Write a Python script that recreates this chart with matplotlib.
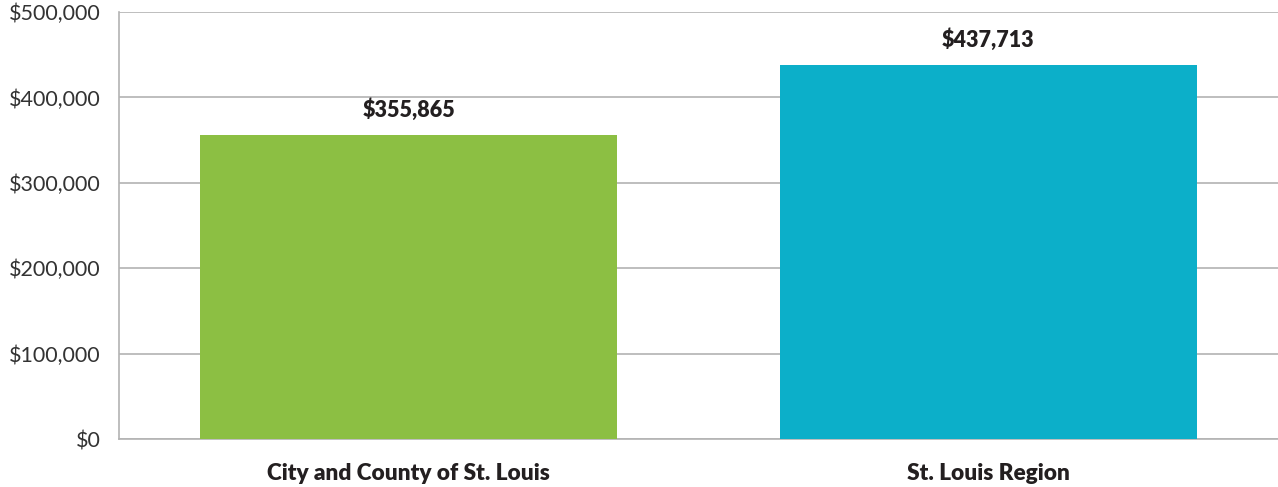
import matplotlib
matplotlib.use("Agg")
import matplotlib.pyplot as plt
from matplotlib.ticker import FuncFormatter

categories = ["City and County of St. Louis", "St. Louis Region"]
values = [355865, 437713]
colors = ["#8cbf43", "#0cafc9"]
yticks = [0, 100000, 200000, 300000, 400000, 500000]

plt.rcParams['font.family'] = ['Lato', 'DejaVu Sans']

fig = plt.figure(figsize=(12.78, 4.87), dpi=100)
ax = fig.add_axes([119/1278, 1-439/487, 1-119/1278, (439-12)/487])

x = list(range(len(categories)))
ax.bar(x, values, width=0.72, color=colors, zorder=3)
ax.set_xlim(-0.5, len(categories)-0.5)
ax.set_ylim(0, 500000)
ax.set_yticks(yticks)
ax.yaxis.set_major_formatter(FuncFormatter(lambda v, p: f"${v:,.0f}"))
ax.grid(axis='y', color='#b3b3b3', linewidth=1.2, zorder=0)
for s in ['top', 'right']:
    ax.spines[s].set_visible(False)
ax.spines['left'].set_color('#b3b3b3')
ax.spines['bottom'].set_color('#b3b3b3')
ax.spines['left'].set_linewidth(1.2)
ax.spines['bottom'].set_linewidth(1.2)
ax.tick_params(axis='y', length=0, pad=13, labelsize=15.5, labelcolor='#333333')
ax.tick_params(axis='x', length=0, pad=17)
ax.set_xticks(x)
ax.set_xticklabels(categories, fontsize=16.3, fontweight='heavy', color='#231f20')
for xi, v in zip(x, values):
    ax.annotate(f"${v:,.0f}", (xi, v), xytext=(0, 10), textcoords='offset points',
                ha='center', va='bottom', fontsize=15.5, fontweight='heavy', color='#231f20')

fig.savefig("out.png", dpi=100)
